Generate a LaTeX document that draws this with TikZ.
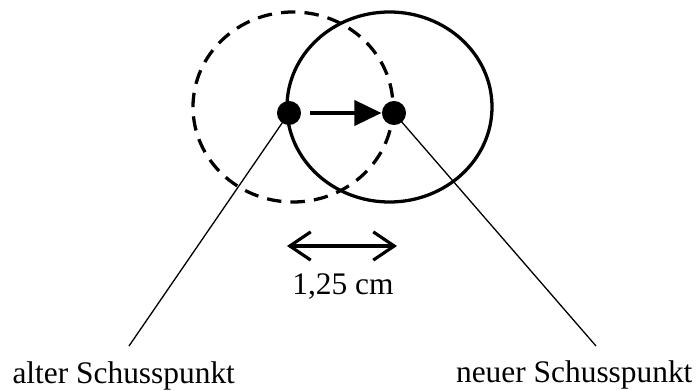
\documentclass[tikz,border=0pt]{standalone}
\usepackage{fontspec}
\setmainfont{Liberation Serif}
\usetikzlibrary{arrows.meta}
\begin{document}
\begin{tikzpicture}[x=0.3821pt, y=-0.3821pt, font=\fontsize{12}{14}\selectfont, line join=round, line cap=butt,
	dot/.style={circle, fill=black, inner sep=0pt, minimum size=9.2pt},
	leader/.style={line width=0.5pt},
	rim/.style={line width=1.25pt},
	movearrow/.style={line width=1.3pt, -{Triangle[length=10.3pt, width=9.6pt]}},
	spanarrow/.style={line width=1.2pt, {Straight Barb[length=8pt, width=10.8pt]}-{Straight Barb[length=8pt, width=10.8pt]}}]
	\useasboundingbox (0,0) rectangle (698,391);
	% ==========================================
	% alter und neuer Trefferkreis
	\draw[rim, dash pattern=on 5.5pt off 3.5pt] (293,107) ellipse [x radius=100, y radius=95];
	\draw[rim] (389.5,107) ellipse [x radius=102.5, y radius=95];
	% ==========================================
	% Schusspunkte
	\node[dot] (alt) at (289,113) {};
	\node[dot] (neu) at (394,113) {};
	\draw[movearrow] ([xshift=3.4pt]alt.east) -- (neu.west);
	% ==========================================
	% Beschriftung
	\coordinate (altend) at (129,346);
	\coordinate (neuend) at (596,346);
	\draw[leader] (alt.center) -- (altend);
	\draw[leader] (neu.center) -- (neuend);
	\node[anchor=base west, inner sep=0pt] (altlbl) at (12,384) {alter Schusspunkt};
	\node[anchor=base east, inner sep=0pt] (neulbl) at (693,383) {neuer Schusspunkt};
	% ==========================================
	% Abstand
	\coordinate (spanl) at (287,246);
	\coordinate (spanr) at (397,246);
	\draw[spanarrow] (spanl) -- (spanr);
	\node[anchor=base, inner sep=0pt] (spanlbl) at (343,295) {1,25 cm};
\end{tikzpicture}
\end{document}
